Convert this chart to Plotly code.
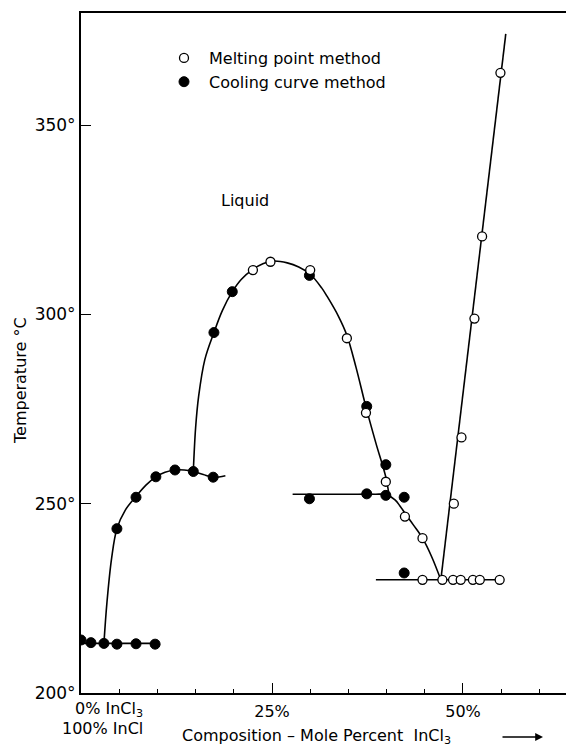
import plotly.graph_objects as go

# ---------------- data (mole % InCl3, temperature °C) ----------------
# Melting point method (open circles)
melt_x = [22.5, 24.8, 30.0, 34.8, 37.3, 39.9, 42.4, 44.7,
          44.7, 47.3, 48.7, 49.7, 51.3, 52.2, 54.8,
          48.8, 49.8, 51.5, 52.5, 54.9]
melt_t = [311.7, 313.9, 311.7, 293.7, 274.0, 255.8, 246.6, 240.9,
          229.9, 229.9, 229.9, 229.9, 229.9, 229.9, 229.9,
          250.0, 267.5, 298.9, 320.6, 363.8]

# Cooling curve method (filled circles)
cool_x = [0.0, 1.3, 3.0, 4.7, 7.2, 9.7,
          4.7, 7.2, 9.8, 12.3, 14.7, 17.3,
          17.4, 19.8, 29.9, 37.4,
          29.9, 37.4, 39.9, 39.9, 42.3, 42.3]
cool_t = [214.0, 213.3, 213.1, 212.9, 213.0, 212.9,
          243.4, 251.7, 257.1, 258.9, 258.5, 257.0,
          295.2, 306.0, 310.3, 275.7,
          251.3, 252.6, 260.3, 252.2, 251.7, 231.7]

# Phase boundary curves
eut1_x = [0.0, 10.0]
eut1_t = [213.1, 213.1]

liq1_x = [3.0, 3.4, 4.0, 4.7, 5.8, 7.2, 8.5, 9.8, 11.0, 12.3, 13.5, 14.7, 16.0, 17.3, 18.9]
liq1_t = [213.1, 224.0, 235.5, 243.4, 248.3, 251.9, 254.9, 257.1, 258.3, 258.9, 258.9, 258.5, 257.7, 257.0, 257.4]

liq2_x = [14.7, 15.0, 15.4, 16.2, 17.4, 18.5, 19.8, 21.0, 22.5, 23.8, 25.2, 27.0, 28.5, 30.0,
          31.5, 32.2, 33.7, 34.8, 36.0, 37.3, 38.6, 39.9, 40.3]
liq2_t = [258.5, 270.0, 278.4, 288.0, 295.2, 301.0, 306.0, 309.3, 311.9, 313.4, 314.1, 313.6, 312.5, 310.6,
          307.0, 304.8, 299.5, 294.5, 286.0, 275.5, 266.0, 257.0, 252.5]

liq3_x = [27.7, 31.0, 35.0, 38.5, 39.9, 41.1, 41.75, 42.4, 43.5, 44.7, 45.9, 47.1]
liq3_t = [252.5, 252.5, 252.5, 252.5, 252.4, 251.0, 249.4, 247.5, 244.4, 240.9, 236.0, 229.9]

eut2_x = [38.6, 55.2]
eut2_t = [229.9, 229.9]

liq4_x = [47.1, 55.6]
liq4_t = [229.9, 374.1]

y_ticks = [200, 250, 300, 350]
y_tick_text = ["200°", "250°", "300°", "350°"]
x_ticks = [25, 50]
x_tick_text = ["25%", "50%"]

FONT = "DejaVu Sans"
INK = "black"

# page body adds an 8px offset; plot area is placed accordingly
PAGE_OFF = 8
L, T, PW, PH = 81 - PAGE_OFF, 13 - PAGE_OFF, 493, 680
W, H = 574 - PAGE_OFF, 746 - PAGE_OFF


def px_x(px):  # reference pixel -> paper x
    return (px - 81) / PW


def px_y(py):  # reference pixel -> paper y
    return (693 - py) / PH


fig = go.Figure()

for xs, ts, shape in [(eut1_x, eut1_t, "linear"), (liq1_x, liq1_t, "spline"),
                      (liq2_x, liq2_t, "spline"), (liq3_x, liq3_t, "spline"),
                      (eut2_x, eut2_t, "linear"), (liq4_x, liq4_t, "linear")]:
    fig.add_trace(go.Scatter(x=xs, y=ts, mode="lines",
                             line=dict(color=INK, width=1.6, shape=shape),
                             showlegend=False, hoverinfo="skip"))

fig.add_trace(go.Scatter(x=cool_x, y=cool_t, mode="markers", name="Cooling curve method",
                         legendrank=2,
                         marker=dict(symbol="circle", size=10, color=INK,
                                     line=dict(color=INK, width=1))))
fig.add_trace(go.Scatter(x=melt_x, y=melt_t, mode="markers", name="Melting point method",
                         legendrank=1,
                         marker=dict(symbol="circle", size=9, color="white",
                                     line=dict(color=INK, width=1.3))))

fig.update_layout(
    width=W, height=H,
    margin=dict(l=L, r=0, t=T, b=H - T - PH, pad=0),
    paper_bgcolor="white", plot_bgcolor="white",
    font=dict(family=FONT, color=INK, size=15),
    legend=dict(x=px_x(159), y=px_y(41), xanchor="left", yanchor="top",
                bgcolor="rgba(0,0,0,0)", font=dict(size=16), itemwidth=40),
    xaxis=dict(range=[0, 64.53], tickvals=x_ticks, ticktext=x_tick_text,
               ticks="inside", ticklen=10, tickwidth=1.2, tickcolor=INK,
               showgrid=False, zeroline=False, showline=True, linecolor=INK,
               linewidth=2, mirror=True, tickfont=dict(size=16),
               ticklabelstandoff=3,
               minor=dict(dtick=5, tick0=0, ticks="inside", ticklen=4,
                          tickcolor=INK, tickwidth=1, showgrid=False)),
    yaxis=dict(range=[200, 379.6], tickvals=y_ticks, ticktext=y_tick_text,
               ticks="inside", ticklen=10, tickwidth=1.2, tickcolor=INK,
               showgrid=False, zeroline=False, showline=True, linecolor=INK,
               linewidth=2, tickfont=dict(size=17)),
)

ann = [
    dict(text="Liquid", x=21.5, y=330.2, xref="x", yref="y", showarrow=False,
         font=dict(size=16)),
    dict(text="Temperature °C", x=px_x(20), y=px_y(381), xref="paper", yref="paper",
         xanchor="center", yanchor="middle",
         textangle=-90, showarrow=False, font=dict(size=16)),
    dict(text="0% InCl<sub>3</sub>", x=px_x(73), y=px_y(710),
         xref="paper", yref="paper", xanchor="left", yanchor="middle",
         showarrow=False, font=dict(size=16)),
    dict(text="100% InCl", x=px_x(60), y=px_y(728),
         xref="paper", yref="paper", xanchor="left", yanchor="middle",
         showarrow=False, font=dict(size=16)),
    dict(text="Composition – Mole Percent  InCl<sub>3</sub>", x=px_x(180),
         y=px_y(736), xref="paper", yref="paper", xanchor="left",
         yanchor="middle", showarrow=False, font=dict(size=16)),
    dict(text="", x=px_x(543), y=px_y(737), xref="paper", yref="paper",
         showarrow=True, ax=-42, ay=0, arrowhead=2, arrowsize=1.2, arrowwidth=1.3,
         arrowcolor=INK),
]
fig.update_layout(annotations=ann)

fig.write_html("out.html")
